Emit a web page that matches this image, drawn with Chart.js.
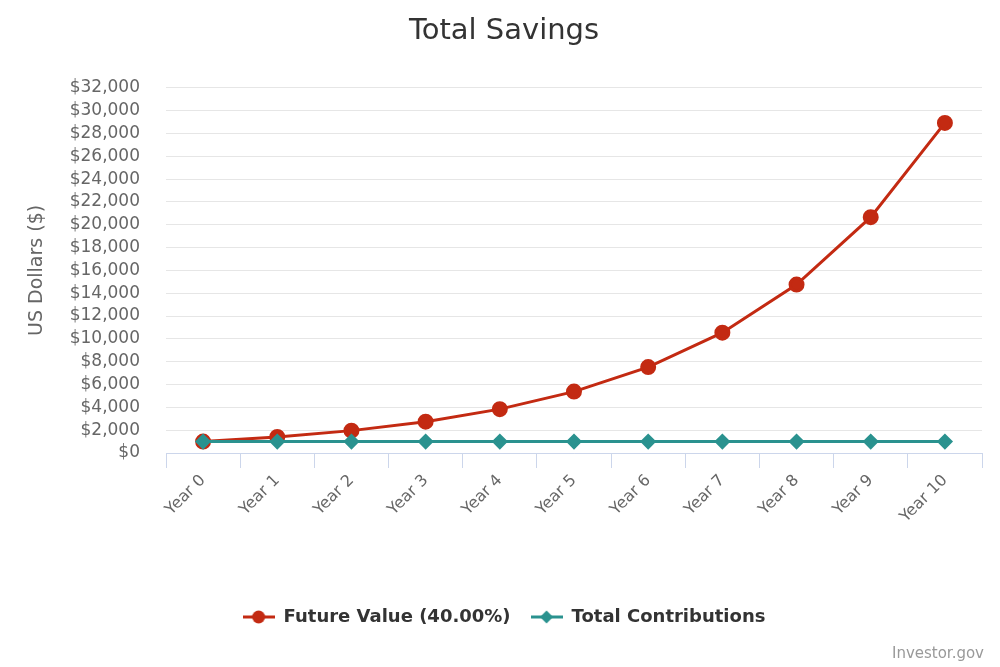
<!DOCTYPE html>
<html>
<head>
<meta charset="utf-8">
<script src="https://cdn.jsdelivr.net/npm/chart.js@4"></script>
<style>
  html, body { margin: 0; padding: 0; background: #ffffff; }
  #wrap { position: relative; width: 1000px; height: 667px; }
  #credits {
    position: absolute; right: 16px; bottom: 5px;
    font: 15px "DejaVu Sans", sans-serif; color: #999999;
  }
</style>
</head>
<body>
<div id="wrap">
  <canvas id="savingsChart" width="1000" height="667"></canvas>
  <div id="credits">Investor.gov</div>
</div>
<script>
const years = ["Year 0", "Year 1", "Year 2", "Year 3", "Year 4", "Year 5",
               "Year 6", "Year 7", "Year 8", "Year 9", "Year 10"];
const futureValue = [1000, 1400, 1960, 2744, 3842, 5378, 7530, 10541, 14758, 20661, 28925];
const contributions = [1000, 1000, 1000, 1000, 1000, 1000, 1000, 1000, 1000, 1000, 1000];

const RED = "#c32a12";
const TEAL = "#2a928f";
const FONT = "'DejaVu Sans', sans-serif";

function legendIcon(color, shape) {
  const c = document.createElement("canvas");
  c.width = 32; c.height = 14;
  const g = c.getContext("2d");
  g.strokeStyle = color; g.fillStyle = color; g.lineWidth = 3;
  g.beginPath(); g.moveTo(0, 7); g.lineTo(32, 7); g.stroke();
  g.beginPath();
  if (shape === "circle") {
    g.arc(16, 7, 6.5, 0, Math.PI * 2);
  } else {
    g.moveTo(16, 0.5); g.lineTo(22.5, 7); g.lineTo(16, 13.5); g.lineTo(9.5, 7); g.closePath();
  }
  g.fill();
  return c;
}

const ctx = document.getElementById("savingsChart").getContext("2d");

new Chart(ctx, {
  type: "line",
  data: {
    labels: years,
    datasets: [{
      label: "Future Value (40.00%)",
      data: futureValue,
      borderColor: RED,
      backgroundColor: RED,
      borderWidth: 3,
      pointRadius: 6.5,
      pointStyle: "circle",
      order: 1,
      icon: legendIcon(RED, "circle")
    }, {
      label: "Total Contributions",
      data: contributions,
      borderColor: TEAL,
      backgroundColor: TEAL,
      borderWidth: 3,
      pointRadius: 6,
      pointStyle: "rectRot",
      order: 0,
      icon: legendIcon(TEAL, "diamond")
    }]
  },
  options: {
    responsive: false,
    animation: false,
    layout: { padding: { left: 26, right: 18, top: 0, bottom: 31 } },
    plugins: {
      title: {
        display: true,
        text: "Total Savings",
        color: "#333333",
        font: { family: FONT, size: 29, weight: "normal" },
        padding: { top: 14, bottom: 39 }
      },
      legend: {
        position: "bottom",
        labels: {
          usePointStyle: true,
          pointStyleWidth: 32,
          color: "#333333",
          font: { family: FONT, size: 18, weight: "bold" },
          padding: 20,
          generateLabels: chart => [0, 1].map(i => ({
            text: chart.data.datasets[i].label,
            pointStyle: chart.data.datasets[i].icon,
            fontColor: "#333333",
            datasetIndex: i,
            hidden: false
          }))
        }
      },
      tooltip: { enabled: false }
    },
    scales: {
      x: {
        offset: true,
        grid: {
          offset: true,
          drawOnChartArea: false,
          color: "#ccd6eb",
          tickLength: 15,
          tickColor: "#ccd6eb"
        },
        border: { color: "#ccd6eb", width: 1 },
        ticks: {
          color: "#666666",
          font: { family: FONT, size: 16 },
          maxRotation: 45,
          minRotation: 45,
          autoSkip: false,
          padding: 3
        },
        afterFit: scale => { scale.height = 135; }
      },
      y: {
        min: 0,
        max: 32000,
        grid: { color: "#e6e6e6", drawTicks: false },
        border: { display: false },
        ticks: {
          stepSize: 2000,
          autoSkip: false,
          color: "#666666",
          font: { family: FONT, size: 17 },
          padding: 26,
          callback: v => "$" + v.toLocaleString("en-US")
        },
        title: {
          display: true,
          text: "US Dollars ($)",
          color: "#666666",
          font: { family: FONT, size: 19 },
          padding: { top: 0, bottom: 0 }
        },
        afterFit: scale => { scale.width = 140; }
      }
    }
  }
});
</script>
</body>
</html>
